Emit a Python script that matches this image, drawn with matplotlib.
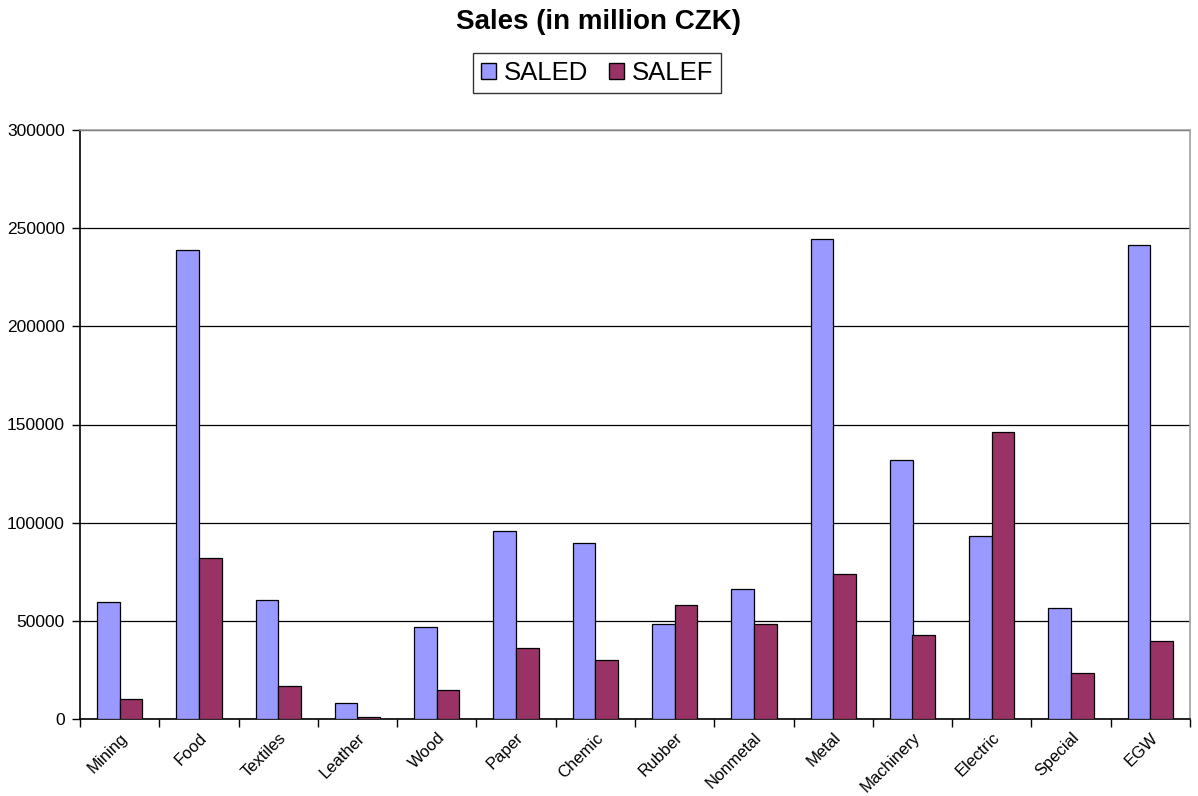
import matplotlib
matplotlib.use("Agg")
import matplotlib.pyplot as plt
import numpy as np
from matplotlib.patches import Patch

plt.rcParams['font.family'] = ['Liberation Sans', 'DejaVu Sans']

categories = ["Mining", "Food", "Textiles", "Leather", "Wood", "Paper", "Chemic",
              "Rubber", "Nonmetal", "Metal", "Machinery", "Electric", "Special", "EGW"]
saled = [59700, 238800, 60600, 8000, 46700, 95700, 89600,
         48200, 66000, 244400, 131900, 93200, 56500, 241300]
salef = [10200, 82000, 17000, 1200, 14900, 36300, 30000,
         57900, 48200, 73800, 42600, 146100, 23300, 39700]
yticks = [0, 50000, 100000, 150000, 200000, 250000, 300000]

fig = plt.figure(figsize=(11.98, 7.96), dpi=100)
ax = fig.add_axes([80/1198, 77/796, 1110/1198, 589/796])

x = np.arange(len(categories))
w = 1/3.5
ax.bar(x - w/2, saled, width=w, color="#9999FF", edgecolor="black", linewidth=0.9, zorder=3, label="SALED")
ax.bar(x + w/2, salef, width=w, color="#993366", edgecolor="black", linewidth=0.9, zorder=3, label="SALEF")

ax.set_xlim(-0.5, len(categories) - 0.5)
ax.set_ylim(0, 300000)
ax.set_yticks(yticks)
ax.set_yticklabels([str(v) for v in yticks], fontsize=12.5)
ax.yaxis.grid(True, color="black", linewidth=0.9, zorder=0)
ax.tick_params(axis="y", direction="out", length=6, width=1, pad=5)

ax.set_xticks(x)
ax.set_xticklabels(categories, rotation=45, ha="right", rotation_mode="anchor", fontsize=12)
ax.tick_params(axis="x", which="major", length=0, pad=8)
ax.set_xticks(np.arange(-0.5, len(categories), 1.0), minor=True)
ax.tick_params(axis="x", which="minor", direction="out", length=6, width=1)

for s in ["left", "bottom"]:
    ax.spines[s].set_color("black")
    ax.spines[s].set_linewidth(1.2)
for s in ["top", "right"]:
    ax.spines[s].set_color("#A0A0A0")
    ax.spines[s].set_linewidth(1.2)

fig.text(0.5, 1 - 22/796, "Sales (in million CZK)", ha="center", va="center",
         fontsize=20, fontweight="bold")

handles = [Patch(facecolor="#9999FF", edgecolor="black", label="SALED"),
           Patch(facecolor="#993366", edgecolor="black", label="SALEF")]
leg = fig.legend(handles=handles, loc="center", bbox_to_anchor=(597/1198, 1 - 73/796),
                 ncol=2, fontsize=18.5, frameon=True, fancybox=False, edgecolor="black",
                 handlelength=0.6, handleheight=0.6, handletextpad=0.3, columnspacing=0.8,
                 borderpad=0.3, borderaxespad=0)
leg.get_frame().set_linewidth(1.0)

fig.savefig("out.png", dpi=100)
